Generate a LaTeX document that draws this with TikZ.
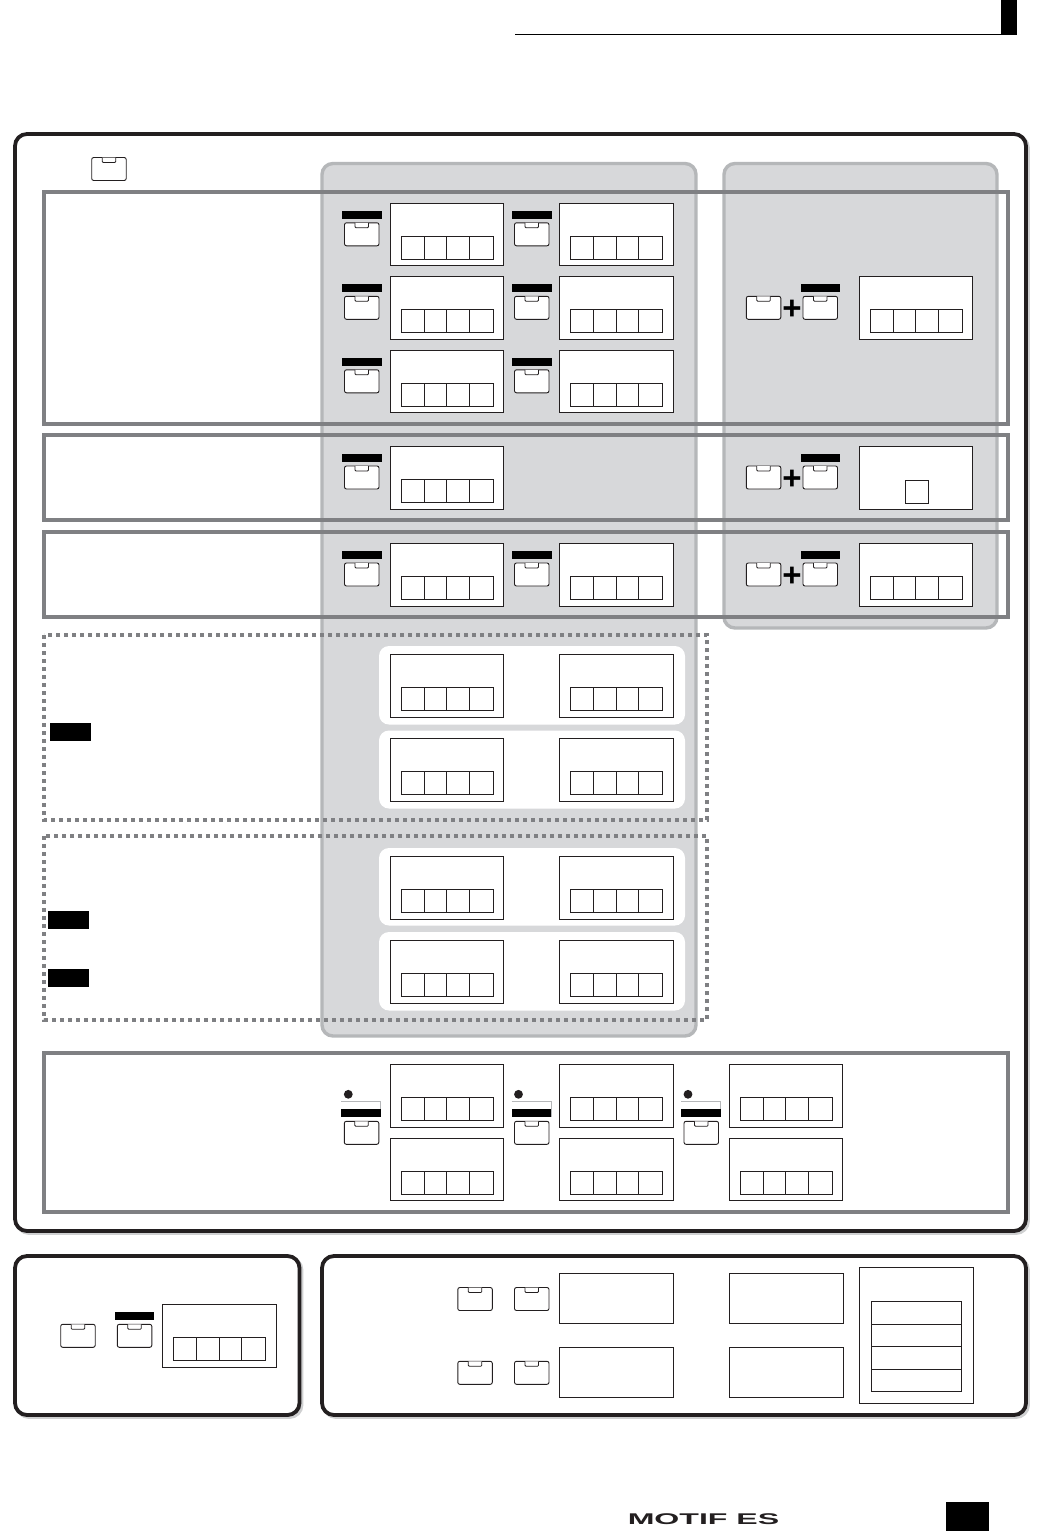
\documentclass[tikz,border=0pt]{standalone}
\usepackage{fontspec}
\setmainfont{Liberation Sans}
\definecolor{panelfill}{HTML}{D7D8DA}
\definecolor{paneledge}{HTML}{B5B7B9}
\definecolor{framegray}{HTML}{7F8083}
\definecolor{ink}{HTML}{231F20}
\definecolor{shade}{HTML}{CFD0D1}
\tikzset{
  outerpanel/.style={draw=ink,line width=3.8pt,fill=white,rounded corners=12pt},
  panelshadow/.style={draw=shade,line width=3.8pt,rounded corners=12pt},
  graypanel/.style={draw=paneledge,line width=3.4pt,fill=panelfill,rounded corners=11pt},
  solidframe/.style={draw=framegray,line width=3.6pt},
  dotframe/.style={draw=framegray,line width=3.6pt,dash pattern=on 3.6pt off 4.4pt},
  whitepad/.style={fill=white,rounded corners=10pt},
  screenbox/.style={draw=ink,line width=0.9pt,fill=white},
  softkey/.style={draw=ink,line width=0.9pt,fill=white,rounded corners=2pt},
  keynotch/.style={draw=ink,line width=0.8pt,fill=white,rounded corners=1pt},
  blackblock/.style={fill=black,draw=none},
  plusmark/.style={font=\fontsize{33}{33}\selectfont\bfseries,inner sep=0pt,text=black},
}
% x = left edge, y = top edge
\newcommand{\myscreen}[2]{%
  \draw[screenbox] (#1,#2) rectangle ++(113.5,62.5);
  \draw[screenbox] (#1+11.2,#2+33) rectangle ++(91.5,23);
  \draw[screenbox] (#1+34,#2+33) -- ++(0,23);
  \draw[screenbox] (#1+56.5,#2+33) -- ++(0,23);
  \draw[screenbox] (#1+79,#2+33) -- ++(0,23);
}
\newcommand{\mykey}[2]{%
  \draw[softkey] (#1,#2) rectangle ++(34.5,23);
  \draw[keynotch] (#1+10.5,#2) -- ++(0,5) -- ++(13.5,0) -- ++(0,-5);
}
\newcommand{\mybarkey}[2]{%
  \fill[blackblock] (#1-2.5,#2-12) rectangle ++(39.5,8);
  \mykey{#1}{#2}
}
\newcommand{\mydot}[2]{%
  \fill[ink] (#1+4,#2-27) circle (4.4);
  \draw[paneledge,line width=0.8pt] (#1-3,#2-19.5) -- ++(39.5,0) -- ++(0,15);
  \fill[blackblock] (#1-3,#2-12.3) rectangle ++(39.5,8);
  \mykey{#1}{#2}
}
\begin{document}
\begin{tikzpicture}[x=1pt,y=-1pt]
\useasboundingbox (0,0) rectangle (1049,1531);
\fill[white] (0,0) rectangle (1049,1531);
% header
\draw[black,line width=1.2pt] (515,34.2) -- (1001,34.2);
\fill[blackblock] (1001,0) rectangle (1017,35);
% main panel
\draw[panelshadow] (17,136) rectangle (1028,1233);
\draw[outerpanel] (15,134) rectangle (1026,1231);
% grey panels
\draw[graypanel] (322,163.5) rectangle (696,1036);
\draw[graypanel] (724,163.5) rectangle (997,628);
% white pads
\fill[whitepad] (379,646) rectangle (685,724.5);
\fill[whitepad] (379,730.5) rectangle (685,808.5);
\fill[whitepad] (379,848) rectangle (685,925.5);
\fill[whitepad] (379,932) rectangle (685,1010.5);
% frames
\draw[solidframe] (44,192) rectangle (1008,424);
\draw[solidframe] (44,435) rectangle (1008,520);
\draw[solidframe] (44,532) rectangle (1008,617);
\draw[solidframe] (44,1053) rectangle (1008,1212);
\draw[dotframe] (44,635) rectangle (707,820);
\draw[dotframe] (44,836) rectangle (707,1020);
% top key
\mykey{91.7}{157.5}
% rows in first frame
\foreach \yy in {203.3,276.8,350.3}{
  \mybarkey{344.5}{\yy+19.5}
  \myscreen{390.3}{\yy}
  \mybarkey{514.5}{\yy+19.5}
  \myscreen{559.7}{\yy}
}
\mykey{746.3}{296.3}
\mybarkey{803}{296.3}
\node[plusmark] (plusa) at (792,310) {+};
\myscreen{859.3}{276.8}
% second frame
\mybarkey{344.5}{466}
\myscreen{390.3}{446.8}
\mykey{746.3}{466}
\mybarkey{803}{466}
\node[plusmark] (plusb) at (792,480) {+};
\draw[screenbox] (859.3,446.8) rectangle ++(113.5,62.5);
\draw[screenbox] (905,480) rectangle ++(23,23);
% third frame
\mybarkey{344.5}{563}
\myscreen{390.3}{543.5}
\mybarkey{514.5}{563}
\myscreen{559.7}{543.5}
\mykey{746.3}{563}
\mybarkey{803}{563}
\node[plusmark] (plusc) at (792,577) {+};
\myscreen{859.3}{543.5}
% dotted frames
\foreach \yy in {654.8,738.8,856.8,940.8}{
  \myscreen{390.3}{\yy}
  \myscreen{559.7}{\yy}
}
\fill[blackblock] (50,723) rectangle (91,741);
\fill[blackblock] (48,911) rectangle (89,929);
\fill[blackblock] (48,969) rectangle (89,987);
% fourth frame
\mydot{344.3}{1121.3}
\mydot{514.5}{1121.3}
\mydot{684}{1121.3}
\foreach \xx in {390.3,559.7,729.3}{
  \myscreen{\xx}{1064.8}
  \myscreen{\xx}{1138.3}
}
% bottom left panel
\draw[panelshadow] (17,1258) rectangle (301.5,1417);
\draw[outerpanel] (15,1256) rectangle (299.5,1415);
\mykey{60.7}{1324.3}
\mybarkey{117.3}{1324.3}
\myscreen{162.5}{1304.5}
% bottom right panel
\draw[panelshadow] (324,1258) rectangle (1028,1417);
\draw[outerpanel] (322,1256) rectangle (1026,1415);
\mykey{457.8}{1287.5}
\mykey{514.5}{1287.5}
\mykey{457.8}{1361.3}
\mykey{514.5}{1361.3}
\draw[screenbox] (559.5,1273.5) rectangle (673.5,1323.5);
\draw[screenbox] (559.5,1347.5) rectangle (673.5,1397.5);
\draw[screenbox] (729.5,1273.5) rectangle (843.5,1323.5);
\draw[screenbox] (729.5,1347.5) rectangle (843.5,1397.5);
\draw[screenbox] (859.5,1267.5) rectangle (973.5,1403);
\draw[screenbox] (871.5,1301.5) rectangle (961.5,1391.5);
\draw[screenbox] (871.5,1324) -- (961.5,1324);
\draw[screenbox] (871.5,1346.5) -- (961.5,1346.5);
\draw[screenbox] (871.5,1369) -- (961.5,1369);
% footer
\node[font=\fontsize{15.5}{15.5}\selectfont\bfseries,text=ink,inner sep=0pt,xscale=2.07,anchor=base] (logo) at (703.5,1524.3) {MOTIF ES};
\fill[blackblock] (946,1502) rectangle (989,1531);
\end{tikzpicture}
\end{document}
